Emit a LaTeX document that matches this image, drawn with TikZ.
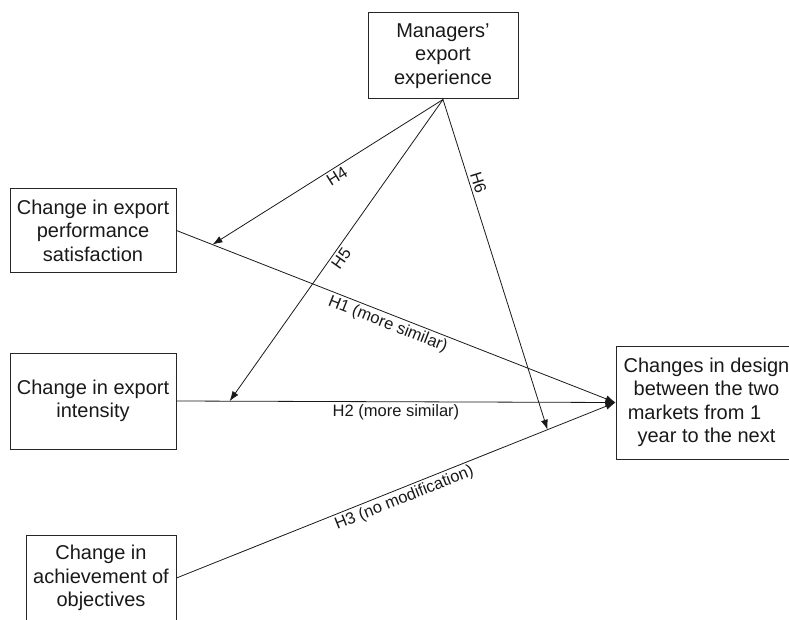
\documentclass[tikz,border=0pt]{standalone}
\usepackage{fontspec}
\setmainfont{Liberation Sans}
\usetikzlibrary{arrows.meta}
\begin{document}
\begin{tikzpicture}[x=1pt,y=-1pt,
  box/.style={draw=black!85, line width=1pt, align=center, text=black!90,
    font=\fontsize{20}{23.5}\selectfont, inner sep=0pt},
  conn/.style={draw=black!90, line width=0.8pt, -{Latex[length=10pt,width=7pt]}},
  lab/.style={font=\fontsize{16.5}{19}\selectfont, text=black!90, sloped, inner sep=2.5pt}]
\useasboundingbox (0,0) rectangle (789,620);
\clip (0,0) rectangle (789,620);
\node[box, minimum width=150pt, minimum height=86pt] (mgr) at (443,56) {Managers'\\export\\experience};
\node[box, minimum width=166pt, minimum height=83pt] (sat) at (93,230.5) {Change in export\\performance\\satisfaction};
\node[box, minimum width=166pt, minimum height=96pt] (int) at (93,401) {Change in export\\intensity};
\node[box, minimum width=150pt, minimum height=86pt] (ach) at (101,578) {Change in\\achievement of\\objectives};
\node[box, minimum width=181pt, minimum height=113pt] (out) at (706.5,402.5) {Changes in design\\between the two\\markets from 1\hspace{24pt}\mbox{}\\year to the next};
\draw[conn] (sat.east) -- coordinate[pos=0.082] (h4end) node[lab, below, pos=0.49] {H1 (more similar)} (out.west);
\draw[conn] (int.east) -- coordinate[pos=0.121] (h5end) node[lab, below, pos=0.5] {H2 (more similar)} (out.west);
\draw[conn] (ach.east) -- coordinate[pos=0.845] (h6end) node[lab, below, pos=0.51] {H3 (no modification)} (out.west);
\draw[conn] (mgr.south) -- node[lab, below, pos=0.48] {H4} (h4end);
\draw[conn] (mgr.south) -- node[lab, below, pos=0.51] {H5} (h5end);
\draw[conn] (mgr.south) -- node[lab, above, pos=0.26] {H6} (h6end);
\end{tikzpicture}
\end{document}
